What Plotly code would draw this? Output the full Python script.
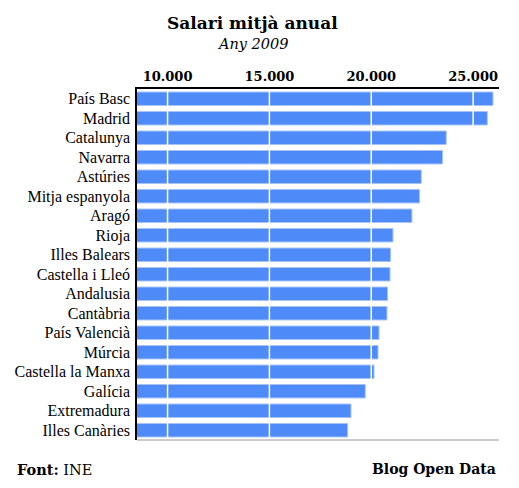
import plotly.graph_objects as go

regions = ["País Basc", "Madrid", "Catalunya", "Navarra", "Astúries", "Mitja espanyola",
           "Aragó", "Rioja", "Illes Balears", "Castella i Lleó", "Andalusia", "Cantàbria",
           "País Valencià", "Múrcia", "Castella la Manxa", "Galícia", "Extremadura",
           "Illes Canàries"]
salaries = [25975, 25695, 23680, 23500, 22455, 22370, 21995, 21065, 20950, 20920,
            20800, 20770, 20380, 20330, 20135, 19705, 19005, 18840]
tick_values = [10000, 15000, 20000, 25000]
tick_labels = ["10.000", "15.000", "20.000", "25.000"]

W, H = 519, 488
L, R, T, B = 137, 20, 89, 48
PW, PH = W - L - R, H - T - B

fig = go.Figure(go.Bar(
    x=salaries, y=regions, orientation="h",
    marker=dict(color="#4e8af8", line=dict(color="#a6c3f9", width=1)),
    hoverinfo="x+y",
))

shapes = [dict(type="line", xref="x", yref="paper", x0=v, x1=v, y0=0, y1=0.996,
               line=dict(color="white", width=1.5), layer="above") for v in tick_values]
shapes.append(dict(type="line", xref="paper", yref="paper", x0=0, x1=1, y0=0, y1=0,
                   line=dict(color="#bbbbbb", width=1.5), layer="above"))

def px_x(p):
    return (p - L) / PW

def px_y(p):
    return (H - B - p) / PH

annotations = [
    dict(text="<b>Salari mitjà anual</b>", x=px_x(252), y=px_y(23), xref="paper", yref="paper",
         xanchor="center", yanchor="middle", showarrow=False,
         font=dict(family="DejaVu Serif", size=17, color="black")),
    dict(text="<i>Any 2009</i>", x=px_x(253), y=px_y(44), xref="paper", yref="paper",
         xanchor="center", yanchor="middle", showarrow=False,
         font=dict(family="DejaVu Serif", size=14.5, color="black")),
    dict(text="<b>Font:</b> INE", x=px_x(15), y=px_y(469), xref="paper", yref="paper",
         xanchor="left", yanchor="middle", showarrow=False,
         font=dict(family="DejaVu Serif", size=14.5, color="black")),
    dict(text="<b>Blog Open Data</b>", x=px_x(498), y=px_y(469), xref="paper", yref="paper",
         xanchor="right", yanchor="middle", showarrow=False,
         font=dict(family="DejaVu Serif", size=14, color="black")),
]

fig.update_layout(
    width=W, height=H,
    margin=dict(l=L, r=R, t=T, b=B, pad=0),
    paper_bgcolor="white", plot_bgcolor="white",
    bargap=0.31,
    showlegend=False,
    shapes=shapes,
    annotations=annotations,
    xaxis=dict(
        side="top", range=[8500, 26270],
        tickvals=tick_values, ticktext=tick_labels,
        showgrid=False, zeroline=False,
        showline=True, linecolor="black", linewidth=1.5,
        ticks="", ticklabelstandoff=1,
        tickfont=dict(family="DejaVu Serif", size=13, color="black", weight="bold"),
        fixedrange=True,
    ),
    yaxis=dict(
        autorange="reversed",
        showgrid=False, zeroline=False,
        showline=True, linecolor="black", linewidth=1.5,
        ticks="", ticklabelstandoff=2,
        tickfont=dict(family="Liberation Serif", size=16, color="black"),
        fixedrange=True,
    ),
)

fig.write_html("out.html")
